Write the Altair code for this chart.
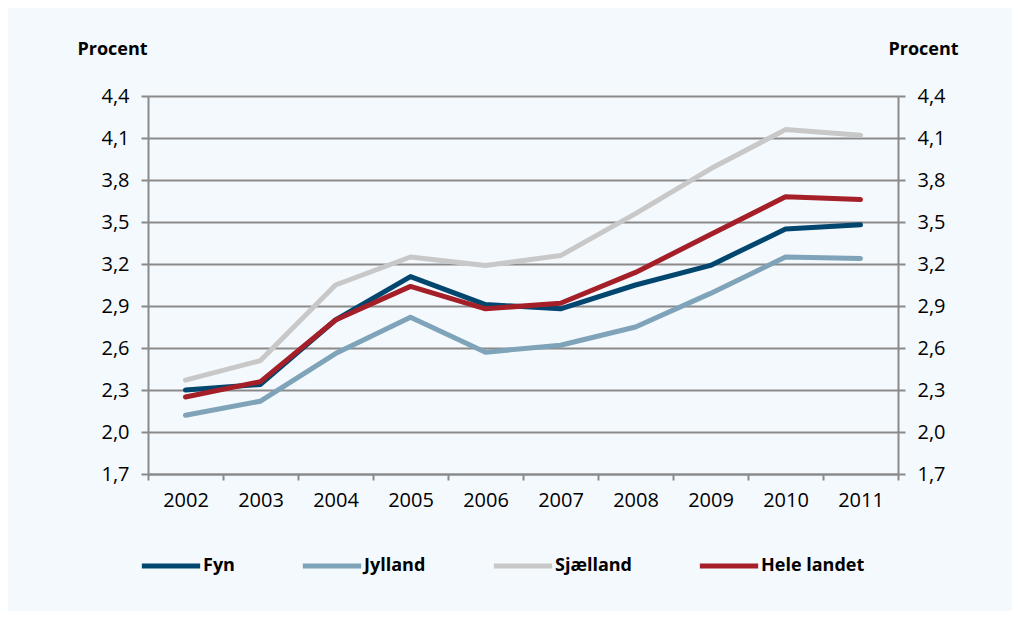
import altair as alt
import pandas as pd

years = ["2002", "2003", "2004", "2005", "2006", "2007", "2008", "2009", "2010", "2011"]
fyn = [2.30, 2.34, 2.80, 3.11, 2.91, 2.88, 3.05, 3.19, 3.45, 3.48]
jylland = [2.12, 2.22, 2.56, 2.82, 2.57, 2.62, 2.75, 2.99, 3.25, 3.24]
sjaelland = [2.37, 2.51, 3.05, 3.25, 3.19, 3.26, 3.56, 3.88, 4.16, 4.12]
hele_landet = [2.25, 2.36, 2.80, 3.04, 2.88, 2.92, 3.14, 3.41, 3.68, 3.66]

series_names = ["Fyn", "Jylland", "Sjælland", "Hele landet"]
series_colors = ["#00466e", "#7fa3b8", "#c8c8c8", "#a51f28"]
y_ticks = [1.7, 2.0, 2.3, 2.6, 2.9, 3.2, 3.5, 3.8, 4.1, 4.4]

# drawing order: Sjælland, Jylland, Fyn, Hele landet (red on top)
rows = []
for name, vals in [("Sjælland", sjaelland), ("Jylland", jylland), ("Fyn", fyn), ("Hele landet", hele_landet)]:
    for yr, v in zip(years, vals):
        rows.append({"year": yr, "value": v, "series": name})
df = pd.DataFrame(rows)

FONT = "Open Sans"
GRAY = "#8a8a8a"
label_expr = "replace(format(datum.value, '.1f'), '.', ',')"

x_scale = alt.Scale(type="band", paddingInner=0, paddingOuter=0)

x_enc = alt.X(
    "year:N",
    sort=years,
    scale=x_scale,
    axis=alt.Axis(
        title=None, labelAngle=0, labelAlign="center", tickBand="extent",
        domainColor=GRAY, domainWidth=2, ticks=True,
        tickColor=GRAY, tickWidth=2, tickSize=6, labelPadding=20, labelFontSize=20,
        labelColor="#000000", labelFont=FONT,
    ),
)

y_scale = alt.Scale(domain=[1.7, 4.4], nice=False, zero=False)

lines = alt.Chart(df).mark_line(strokeWidth=5, strokeCap="round", strokeJoin="round").encode(
    x=x_enc,
    y=alt.Y(
        "value:Q",
        scale=y_scale,
        axis=alt.Axis(
            values=y_ticks, labelExpr=label_expr, orient="left", grid=True,
            gridColor=GRAY, gridWidth=2, domainColor=GRAY, domainWidth=2,
            tickColor=GRAY, tickWidth=2, tickSize=7, labelPadding=12,
            labelFontSize=20, labelColor="#000000", labelFont=FONT,
            title="Procent", titleAngle=0, titleAlign="center", titleBaseline="middle",
            titleX=-36, titleY=-47, titleFontSize=18, titleFontWeight="bold",
            titleFont=FONT, titleColor="#000000",
        ),
    ),
    color=alt.Color(
        "series:N",
        scale=alt.Scale(domain=series_names, range=series_colors),
        legend=alt.Legend(
            title=None, orient="none", direction="horizontal", legendX=-9, legendY=438,
            symbolType="stroke", symbolStrokeWidth=5, symbolSize=3400,
            labelFontSize=18, labelFontWeight="bold", labelFont=FONT, labelColor="#000000",
            labelOffset=0, columnPadding=57, padding=0,
        ),
    ),
    detail="series:N",
)

right_axis = alt.Chart(df).mark_point(opacity=0).encode(
    x=alt.X("year:N", sort=years, scale=x_scale),
    y=alt.Y(
        "value:Q",
        scale=y_scale,
        axis=alt.Axis(
            values=y_ticks, labelExpr=label_expr, orient="right", grid=False,
            domainColor=GRAY, domainWidth=2, tickColor=GRAY, tickWidth=2, tickSize=7,
            labelPadding=12, labelFontSize=20, labelColor="#000000", labelFont=FONT,
            title="Procent", titleAngle=0, titleAlign="center", titleBaseline="middle",
            titleX=25, titleY=-47, titleFontSize=18, titleFontWeight="bold",
            titleFont=FONT, titleColor="#000000",
        ),
    ),
)

chart = alt.layer(right_axis, lines).resolve_axis(y="independent").properties(
    width=750,
    height=378,
    autosize=alt.AutoSizeParams(type="none"),
    padding={"left": 140, "top": 88, "right": 114, "bottom": 137},
    background="#f4f9fd",
).configure_view(stroke=None)

chart.save("out.html", embed_options={"renderer": "svg", "actions": False})
